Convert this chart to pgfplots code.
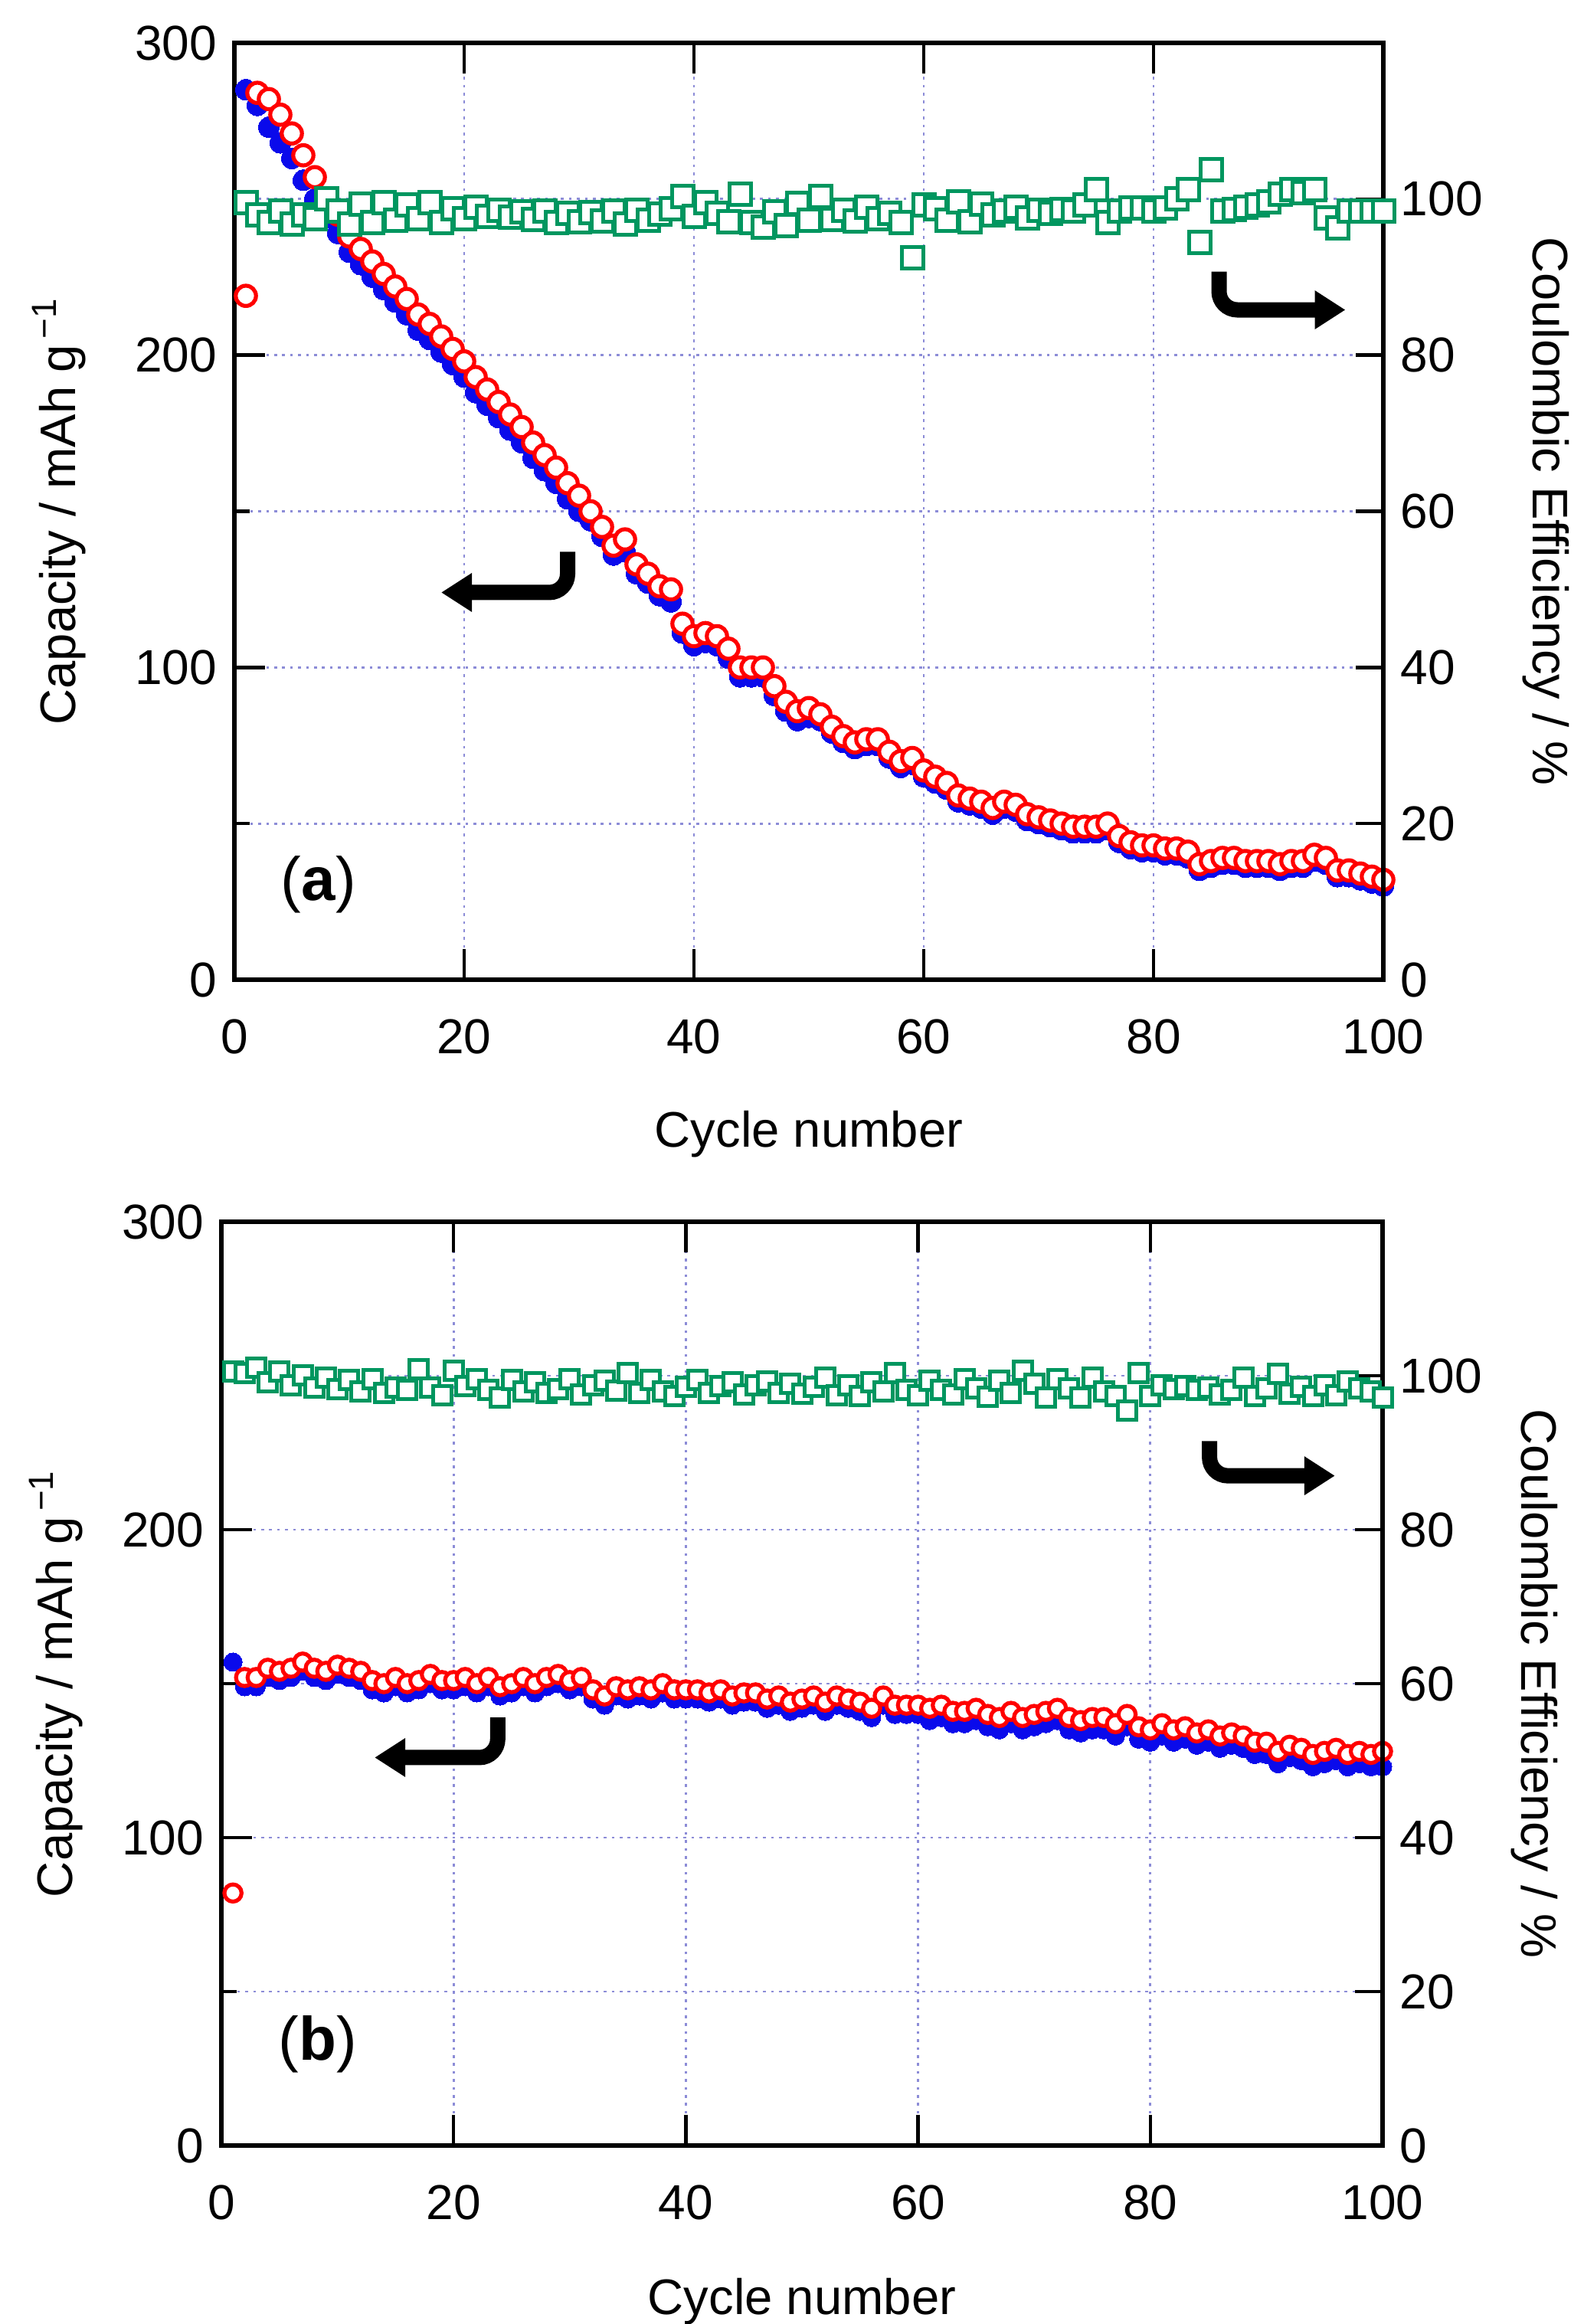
\documentclass[border=0pt]{standalone}
\usepackage{fontspec}
\setmainfont{Liberation Sans}
\usepackage{pgfplots}
\usepackage{pgfplotstable}
\pgfplotsset{compat=1.18}
\usetikzlibrary{arrows.meta}

\definecolor{ceg}{RGB}{0,150,95}
\definecolor{gridc}{RGB}{140,140,215}
\definecolor{dblue}{RGB}{10,10,235}

\pgfplotstableread{
c dis chg ce
1 285 219 99.5
2 280 284 98
3 273 282 97
4 268 277 98.5
5 263 271 96.8
6 256 264 98
7 250 257 97.5
8 244 250 100
9 239 245 98.5
10 233 238 96.8
11 229 234 99.3
12 225 230 97
13 221 226 99.5
14 217 222 97.3
15 213 218 99.2
16 208 213 97.5
17 205 210 99.5
18 201 206 97
19 197 202 98.8
20 193 198 97.5
21 188 193 99
22 184 189 97.8
23 180 185 98.6
24 176 181 97.7
25 172 177 98.4
26 167 172 97.4
27 163 168 98.5
28 159 164 97
29 154 159 98.2
30 150 155 97.1
31 147 150 98.3
32 142 145 97.2
33 136 139 98.5
34 137 141 96.8
35 130 133 98.6
36 127 130 97.3
37 123 126 98.1
38 121 125 98.8
39 111 114 100.3
40 107 110 97.8
41 108 111 99.5
42 107 110 98.2
43 103 106 97.1
44 97 100 100.6
45 97 100 97
46 97 100 96.4
47 91 94 98.4
48 86 89 96.6
49 83 86 99.4
50 84 87 97.3
51 83 85 100.3
52 79 81 97.4
53 76 78 98.6
54 74 76 97.2
55 75 77 99
56 75 77 97.5
57 71 73 98.2
58 68 70 97
59 69 71 92.5
60 65 67 99.2
61 63 65 98.8
62 61 63 97.3
63 57 59 99.6
64 56 58 97.1
65 55 57 99.3
66 53 55 98
67 55 57 98.5
68 54 56 99
69 51 53 97.6
70 50 52 98.6
71 49 51 98.2
72 48 50 98.7
73 47 49 98.5
74 47 49 99.2
75 47 49 101.2
76 48 50 97
77 44 46 98.5
78 42 44 98.9
79 41 43 98.9
80 41 43 98.5
81 40 42 98.9
82 40 42 100
83 39 41 101.2
84 35 37 94.4
85 36 38 103.8
86 37 39 98.5
87 37 39 98.7
88 36 38 99
89 36 38 99.2
90 36 38 99.6
91 35 37 100.6
92 36 38 101.2
93 36 38 100.8
94 38 40 101.2
95 37 39 97.6
96 33 35 96.3
97 33 35 98.5
98 32 34 98.5
99 31 33 98.5
100 30 32 98.5
}\dataA

\pgfplotstableread{
c dis chg ce
1 157 82 100.5
2 149 152 100.3
3 149 152 101
4 152 155 99.2
5 151 154 100.5
6 152 155 98.8
7 154 157 100
8 152 155 98.5
9 151 154 99.8
10 153 156 98.3
11 152 155 99.5
12 151 154 98
13 148 151 99.6
14 147 150 97.8
15 149 152 98.5
16 147 150 98.2
17 148 151 100.8
18 150 153 98.5
19 148 151 97.5
20 148 151 100.6
21 149 152 98.7
22 147 150 99.6
23 149 152 98.2
24 146 149 97.2
25 147 150 99.5
26 149 152 98
27 147 150 99.2
28 149 152 97.8
29 150 153 98.3
30 148 151 99.6
31 149 152 97.6
32 145 148 98.8
33 143 146 99.4
34 146 149 98.1
35 145 148 100.3
36 146 149 97.8
37 145 148 99.5
38 147 150 98
39 145 148 97.4
40 145 148 98.6
41 145 148 99.5
42 144 147 97.8
43 145 148 98.7
44 143 146 99.2
45 144 147 97.6
46 144 147 98.8
47 142 145 99.3
48 143 146 97.8
49 141 144 99
50 142 145 97.7
51 143 146 98.6
52 141 144 99.8
53 143 146 97.5
54 142 145 98.8
55 141 144 97.4
56 139 142 99.2
57 143 146 98
58 140 143 100.3
59 140 143 98.2
60 140 143 97.5
61 138 142 99.4
62 139 143 98.2
63 137 141 97.6
64 137 141 99.6
65 138 142 98.4
66 136 140 97.3
67 135 139 99.4
68 137 141 97.8
69 135 139 100.6
70 136 140 99
71 137 141 97.2
72 138 142 99.6
73 135 139 98.4
74 134 138 97.2
75 135 139 99.8
76 135 139 98
77 133 137 97.4
78 136 140 95.5
79 132 136 100.3
80 131 135 97.4
81 133 137 98.8
82 131 135 98.3
83 132 136 98.7
84 130 134 98.2
85 131 135 98.5
86 129 133 97.6
87 130 134 98.2
88 129 133 99.8
89 127 131 97.4
90 127 131 98.4
91 124 128 100.2
92 126 130 97.7
93 125 129 98.6
94 123 127 97.4
95 124 128 98.8
96 125 129 97.5
97 123 127 99.3
98 124 128 98.4
99 123 127 98
100 123 128 97.2
}\dataB

\tikzset{hook/.style={line width=5pt, rounded corners=6pt, -{Triangle[length=10pt,width=12pt]}}}

\pgfplotsset{
  panel/.style={
    scale only axis, clip=false,
    xmin=0, xmax=100,
    tick align=inside,
    major tick length=9pt, minor tick length=5pt,
    every tick/.append style={black, line width=1.1pt},
    axis line style={line width=1.3pt},
    ticklabel style={font=\fontsize{16}{19}\selectfont},
    /pgf/number format/assume math mode=true,
    grid style={gridc, line width=0.7pt, dash pattern=on 0.9pt off 1.7pt},
    minor grid style={gridc, line width=0.7pt, dash pattern=on 0.9pt off 1.7pt},
  },
  leftax/.style={
    panel,
    ymin=0, ymax=300,
    ytick={0,100,200,300}, minor ytick={50,150,250},
    xtick={0,20,40,60,80,100},
    xmajorgrids, ymajorgrids, yminorgrids,
    xtick pos=both, xticklabel pos=lower, ytick pos=left,
    major tick length=10pt,
    xticklabel style={yshift=-9.5pt},
    yticklabel style={xshift=-2.2pt},
    every axis x label/.style={at={(axis description cs:0.5,0)}, anchor=center, font=\fontsize{16.3}{20}\selectfont},
    every axis y label/.style={at={(axis description cs:0,0.5)}, anchor=center, rotate=90, font=\fontsize{16.3}{20}\selectfont},
    xlabel={Cycle number},
    ylabel={Capacity / mAh g\textsuperscript{\,−1}},
  },
  rightax/.style={
    panel,
    ymin=0, ymax=120,
    ytick={0,20,40,60,80,100},
    axis x line=none, axis y line*=right,
    ytick pos=right, yticklabel pos=right,
    yticklabel style={xshift=2.2pt},
    every axis y label/.style={at={(axis description cs:1,0.5)}, anchor=center, rotate=-90, font=\fontsize{16.3}{20}\selectfont},
    ylabel={Coulombic Efficiency / \%},
  },
  disch/.style={only marks, mark=*, mark options={draw=dblue, fill=dblue, line width=0pt}},
  charg/.style={only marks, mark=*, mark options={draw=red, fill=white, line width=1.3pt}},
  ceff/.style={only marks, mark=square*, mark options={draw=ceg, fill=white, line width=1.25pt}},
}

\begin{document}
\begin{tikzpicture}
\useasboundingbox (0,0) rectangle (517pt,758.5pt);

% ---------- panel (a) ----------
\begin{axis}[leftax, at={(76.5pt,438.75pt)}, anchor=south west,
  width=375pt, height=305.75pt,
  xlabel style={yshift=-50.5pt}, ylabel style={yshift=57.25pt}]
\addplot[disch, mark size=3.4pt] table[x=c, y=dis] {\dataA};
\addplot[charg, mark size=3.3pt] table[x=c, y=chg] {\dataA};
\draw[hook] (axis cs:29,137) |- (axis cs:18,124);
\node at (axis cs:7.3,30.5) {\fontsize{20}{24}\selectfont(\textbf{a})};
\end{axis}
\begin{axis}[rightax, at={(76.5pt,438.75pt)}, anchor=south west,
  width=375pt, height=305.75pt,
  ylabel style={yshift=53.2pt}]
\addplot[ceff, mark size=3.5pt] table[x=c, y=ce] {\dataA};
\draw[hook] (axis cs:85.7,90.7) |- (axis cs:96.7,85.8);
\end{axis}

% ---------- panel (b) ----------
\begin{axis}[leftax, at={(72.25pt,58.25pt)}, anchor=south west,
  width=379pt, height=301.5pt,
  xlabel style={yshift=-51pt}, ylabel style={yshift=54pt}]
\addplot[disch, mark size=3pt] table[x=c, y=dis] {\dataB};
\addplot[charg, mark size=2.8pt] table[x=c, y=chg] {\dataB};
\draw[hook] (axis cs:23.8,139) |- (axis cs:13.2,126);
\node at (axis cs:8.3,32.8) {\fontsize{20}{24}\selectfont(\textbf{b})};
\end{axis}
\begin{axis}[rightax, at={(72.25pt,58.25pt)}, anchor=south west,
  width=379pt, height=301.5pt,
  ylabel style={yshift=49.5pt}]
\addplot[ceff, mark size=3pt] table[x=c, y=ce] {\dataB};
\draw[hook] (axis cs:85.1,91.5) |- (axis cs:95.9,87);
\end{axis}
\end{tikzpicture}
\end{document}
